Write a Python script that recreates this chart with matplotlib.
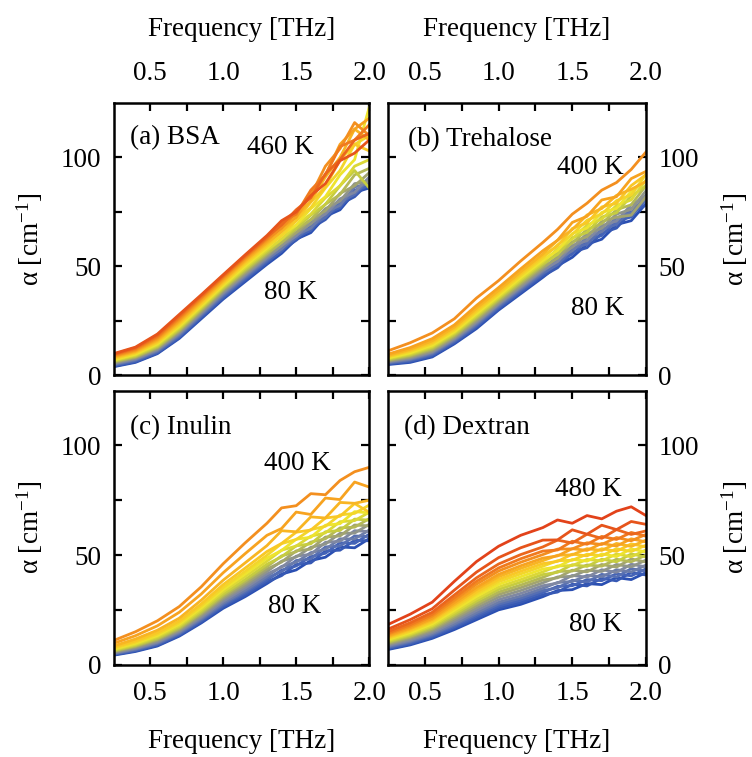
import matplotlib
matplotlib.use('Agg')
import matplotlib.pyplot as plt
from matplotlib.colors import LinearSegmentedColormap

# ------------------------------------------------------------
# font setup (Times-like serif)
# ------------------------------------------------------------
plt.rcParams['font.family'] = ['Liberation Serif', 'DejaVu Serif']
plt.rcParams['mathtext.default'] = 'regular'
FS = 19.5

# ------------------------------------------------------------
# data (frequency in THz, alpha in cm^-1)
# ------------------------------------------------------------
freq = [0.25, 0.4, 0.55, 0.7, 0.85, 1.0, 1.15, 1.3, 1.4, 1.5, 1.6, 1.7, 1.8, 1.9, 2.0]

bsa_temps = list(range(80, 461, 20))
bsa_alpha = [
    [4.0, 6.0, 10.0, 17.0, 26.0, 35.0, 43.0, 51.0, 56.0, 62.5, 65.5, 73.0, 76.0, 84.0, 86.0],
    [4.2, 6.3, 10.3, 17.4, 26.5, 35.5, 43.6, 51.6, 57.5, 62.0, 67.5, 71.5, 78.5, 82.0, 88.5],
    [4.5, 6.6, 10.6, 17.8, 27.0, 36.0, 44.2, 52.2, 57.0, 63.5, 66.5, 74.0, 77.0, 85.0, 87.0],
    [4.8, 7.0, 11.0, 18.3, 27.5, 36.6, 44.8, 52.8, 58.5, 63.0, 68.5, 72.5, 79.5, 83.0, 90.0],
    [5.1, 7.3, 11.4, 18.8, 28.0, 37.2, 45.4, 53.4, 58.0, 64.5, 67.5, 75.0, 78.0, 86.5, 88.0],
    [5.4, 7.6, 11.8, 19.3, 28.5, 37.8, 46.0, 54.0, 59.5, 64.0, 70.0, 74.0, 81.0, 84.0, 91.0],
    [5.7, 8.0, 12.2, 19.8, 29.0, 38.4, 46.6, 54.6, 59.5, 65.5, 69.5, 76.5, 80.0, 88.0, 89.0],
    [6.0, 8.3, 12.6, 20.3, 29.6, 39.0, 47.3, 55.3, 61.0, 65.5, 71.5, 75.5, 83.5, 87.0, 93.0],
    [6.3, 8.6, 13.0, 20.8, 30.2, 39.6, 48.0, 56.0, 61.0, 67.0, 71.5, 78.5, 83.0, 92.0, 95.0],
    [6.6, 9.0, 13.5, 21.4, 30.8, 40.2, 48.7, 56.8, 62.5, 67.5, 73.5, 78.5, 87.0, 94.0, 86.0],
    [6.9, 9.4, 14.0, 22.0, 31.4, 40.8, 49.4, 57.6, 62.5, 69.0, 74.0, 81.5, 87.0, 96.0, 99.0],
    [7.2, 9.8, 14.5, 22.6, 32.0, 41.4, 50.2, 58.4, 64.5, 69.0, 76.5, 82.0, 92.0, 99.0, 123.0],
    [7.5, 10.2, 15.0, 23.2, 32.6, 42.0, 51.0, 59.2, 64.0, 71.0, 77.0, 86.0, 94.0, 106.0, 110.0],
    [7.9, 10.6, 15.5, 23.9, 33.3, 42.7, 51.8, 60.0, 66.0, 71.0, 79.5, 86.5, 99.0, 106.0, 103.0],
    [8.3, 11.0, 16.1, 24.6, 34.0, 43.4, 52.5, 60.8, 66.0, 73.0, 80.0, 91.0, 100.0, 113.0, 108.0],
    [8.7, 11.4, 16.7, 25.3, 34.7, 44.1, 53.2, 61.6, 68.0, 72.5, 83.0, 92.0, 106.0, 113.0, 118.0],
    [9.0, 11.8, 17.3, 26.0, 35.4, 44.8, 53.9, 62.4, 67.5, 75.0, 82.5, 96.0, 104.0, 116.0, 110.0],
    [9.4, 12.3, 17.9, 26.7, 36.0, 45.3, 54.4, 63.0, 70.0, 74.0, 85.0, 92.0, 105.0, 108.0, 115.0],
    [9.7, 12.7, 18.5, 27.4, 36.6, 45.8, 54.9, 63.6, 69.0, 76.0, 81.5, 92.5, 99.0, 108.0, 111.0],
    [10.0, 13.0, 19.0, 28.0, 37.0, 46.2, 55.3, 64.2, 71.0, 75.0, 82.5, 88.0, 98.5, 102.0, 108.0],
]

tre_temps = list(range(80, 401, 20))
tre_alpha = [
    [5.0, 6.0, 8.5, 14.5, 21.5, 30.0, 37.5, 45.0, 50.3, 54.2, 60.2, 62.5, 69.2, 71.0, 78.8],
    [5.3, 6.4, 8.9, 15.0, 22.1, 30.5, 38.1, 45.6, 49.4, 56.6, 58.6, 65.3, 67.6, 74.9, 78.2],
    [5.5, 6.7, 9.4, 15.4, 22.6, 31.1, 38.7, 46.3, 51.7, 55.7, 61.8, 64.2, 70.8, 72.7, 80.8],
    [5.8, 7.1, 9.8, 15.9, 23.2, 31.6, 39.3, 46.9, 50.8, 58.1, 60.2, 67.0, 69.2, 76.6, 80.1],
    [6.0, 7.4, 10.3, 16.3, 23.7, 32.2, 39.9, 47.6, 53.1, 57.2, 63.4, 65.9, 72.4, 74.4, 82.7],
    [6.3, 7.8, 10.7, 16.8, 24.3, 32.7, 40.5, 48.2, 52.2, 59.6, 61.8, 68.7, 70.8, 78.3, 82.1],
    [6.5, 8.2, 11.1, 17.3, 24.9, 33.2, 41.1, 48.8, 54.5, 58.8, 65.0, 67.5, 74.0, 76.2, 84.7],
    [6.8, 8.6, 11.7, 17.8, 25.6, 33.9, 41.9, 49.6, 53.8, 61.3, 63.6, 70.6, 72.6, 73.5, 82.0],
    [7.1, 9.1, 12.2, 18.4, 26.3, 34.6, 42.6, 50.4, 56.3, 60.7, 67.0, 69.6, 76.0, 78.3, 87.1],
    [7.5, 9.5, 12.8, 19.0, 27.0, 35.3, 43.4, 51.2, 55.5, 63.2, 65.6, 72.7, 74.6, 82.4, 86.8],
    [7.8, 10.0, 13.3, 19.6, 27.7, 35.9, 44.1, 52.0, 58.0, 62.6, 69.0, 71.7, 78.0, 80.5, 89.6],
    [8.1, 10.4, 13.9, 20.1, 28.4, 36.6, 44.9, 52.8, 57.3, 65.1, 67.6, 74.8, 76.6, 84.5, 89.2],
    [8.5, 11.0, 14.6, 20.8, 29.2, 37.4, 45.8, 53.8, 59.9, 64.7, 71.2, 74.1, 80.2, 82.8, 92.3],
    [8.8, 11.5, 15.2, 21.5, 30.0, 38.2, 46.7, 54.8, 59.4, 67.4, 70.0, 77.3, 79.0, 87.1, 92.1],
    [9.2, 12.0, 15.9, 22.2, 30.9, 39.0, 47.6, 55.7, 62.0, 66.9, 73.6, 76.6, 82.6, 85.4, 89.0],
    [9.8, 12.8, 16.9, 23.2, 32.1, 40.3, 48.9, 57.2, 62.0, 70.2, 73.0, 80.5, 82.0, 90.3, 93.6],
    [11.3, 15.0, 19.5, 26.0, 35.5, 43.5, 52.5, 61.0, 67.0, 74.0, 79.0, 85.0, 88.5, 94.5, 102.5],
]

inu_temps = list(range(80, 401, 20))
inu_alpha = [
    [4.3, 6.0, 8.5, 13.0, 19.0, 25.7, 31.0, 37.0, 41.3, 43.2, 47.5, 49.0, 53.7, 53.3, 57.5],
    [4.5, 6.3, 8.8, 13.4, 19.5, 26.3, 31.7, 37.8, 40.6, 45.7, 46.4, 51.9, 52.2, 56.7, 56.5],
    [4.7, 6.5, 9.2, 13.8, 20.0, 26.9, 32.5, 38.6, 43.1, 45.0, 49.3, 50.8, 55.6, 55.3, 59.5],
    [4.9, 6.8, 9.5, 14.2, 20.5, 27.5, 33.2, 39.5, 42.4, 47.5, 48.2, 53.7, 54.1, 58.7, 58.4],
    [5.1, 7.1, 9.9, 14.6, 21.0, 28.1, 33.9, 40.3, 44.8, 46.7, 51.1, 52.6, 57.4, 57.3, 61.4],
    [5.4, 7.4, 10.3, 15.1, 21.6, 28.9, 34.9, 41.4, 44.4, 49.5, 50.3, 55.8, 56.3, 61.1, 60.7],
    [5.6, 7.8, 10.8, 15.6, 22.3, 29.8, 35.9, 42.5, 47.2, 49.1, 53.5, 55.0, 59.9, 60.0, 64.0],
    [5.9, 8.2, 11.3, 16.1, 23.0, 30.6, 36.9, 43.6, 46.8, 51.9, 52.7, 58.2, 58.7, 63.7, 63.3],
    [6.2, 8.5, 11.7, 16.6, 23.6, 31.4, 37.9, 44.7, 49.6, 51.5, 55.9, 57.4, 62.4, 62.7, 66.6],
    [6.4, 8.9, 12.2, 17.2, 24.3, 32.2, 38.8, 45.8, 49.2, 54.2, 55.1, 60.6, 61.2, 66.4, 65.9],
    [6.8, 9.3, 12.8, 17.8, 25.1, 33.2, 40.1, 47.2, 52.2, 54.1, 58.6, 60.1, 65.2, 65.7, 69.5],
    [7.1, 9.8, 13.3, 18.5, 25.9, 34.2, 41.3, 48.6, 52.1, 57.2, 58.1, 63.6, 64.3, 69.8, 69.2],
    [7.5, 10.2, 13.9, 19.1, 26.8, 35.2, 42.5, 49.9, 55.2, 57.1, 61.6, 63.1, 68.3, 69.0, 72.8],
    [7.9, 10.8, 14.6, 19.9, 27.7, 36.5, 44.0, 51.6, 55.3, 60.4, 61.4, 66.9, 67.7, 73.5, 69.5],
    [8.5, 11.7, 15.7, 21.2, 29.4, 38.5, 46.4, 54.3, 61.1, 60.6, 67.4, 66.9, 74.0, 73.6, 75.0],
    [9.7, 13.2, 17.7, 23.9, 32.2, 41.9, 50.6, 59.0, 62.1, 69.6, 68.5, 76.0, 75.3, 83.3, 81.0],
    [11.0, 15.0, 20.0, 26.5, 35.5, 46.0, 55.5, 64.5, 71.5, 72.5, 78.0, 77.5, 84.0, 88.0, 90.0],
]

dex_temps = list(range(80, 481, 20))
dex_alpha = [
    [6.9, 9.0, 12.0, 16.0, 20.5, 25.0, 27.5, 31.0, 33.8, 34.2, 37.0, 36.5, 39.7, 38.8, 42.0],
    [7.2, 9.4, 12.5, 16.7, 21.3, 25.9, 28.4, 31.9, 33.1, 36.7, 35.9, 39.4, 38.2, 42.1, 40.9],
    [7.6, 9.8, 13.0, 17.3, 22.1, 26.7, 29.4, 32.9, 35.7, 36.0, 38.8, 38.3, 41.5, 40.5, 43.7],
    [7.9, 10.3, 13.5, 18.0, 22.9, 27.6, 30.3, 33.8, 35.0, 38.5, 37.7, 41.2, 40.0, 43.8, 42.6],
    [8.3, 10.7, 14.0, 18.6, 23.7, 28.5, 31.3, 34.8, 37.5, 37.9, 40.7, 40.1, 43.3, 42.3, 45.4],
    [8.7, 11.2, 14.6, 19.5, 24.7, 29.6, 32.5, 36.0, 37.2, 40.7, 39.9, 43.3, 42.1, 45.8, 44.6],
    [9.2, 11.8, 15.3, 20.4, 25.8, 30.8, 33.8, 37.3, 40.0, 40.3, 43.1, 42.5, 45.7, 44.6, 47.7],
    [9.6, 12.4, 16.0, 21.3, 26.9, 32.0, 35.1, 38.6, 39.6, 43.1, 42.3, 45.7, 44.5, 48.2, 46.8],
    [10.1, 12.9, 16.6, 22.2, 27.9, 33.1, 36.3, 39.8, 42.5, 42.7, 45.5, 44.9, 48.1, 46.9, 50.0],
    [10.5, 13.5, 17.3, 23.0, 29.0, 34.3, 37.6, 41.1, 42.1, 45.6, 44.8, 48.1, 46.9, 50.5, 49.1],
    [11.0, 14.0, 17.9, 23.9, 30.0, 35.4, 38.8, 42.3, 45.0, 45.2, 48.0, 47.3, 50.5, 49.2, 52.3],
    [11.5, 14.6, 18.6, 24.8, 31.1, 36.6, 40.1, 43.6, 44.6, 48.0, 47.2, 50.5, 49.3, 52.8, 51.4],
    [11.9, 15.2, 19.3, 25.7, 32.2, 37.8, 41.4, 44.9, 47.4, 47.6, 50.4, 49.7, 52.9, 51.6, 54.5],
    [12.4, 15.7, 19.9, 26.6, 33.2, 38.9, 42.6, 46.1, 47.1, 50.4, 49.6, 52.9, 51.7, 55.1, 53.7],
    [12.8, 16.3, 20.6, 27.4, 34.3, 40.1, 43.9, 47.4, 49.9, 50.1, 52.9, 52.1, 55.3, 53.9, 56.8],
    [13.3, 16.8, 21.2, 28.3, 35.3, 41.2, 45.1, 48.6, 49.6, 52.9, 52.1, 55.3, 54.1, 57.4, 56.0],
    [13.9, 17.5, 22.1, 29.4, 36.7, 42.7, 46.7, 50.2, 52.7, 52.8, 55.6, 54.8, 58.0, 56.5, 59.4],
    [14.4, 18.2, 22.9, 30.5, 38.0, 44.1, 48.3, 51.8, 52.3, 56.3, 54.9, 58.5, 57.1, 60.3, 58.6],
    [15.1, 19.1, 23.9, 31.8, 39.6, 45.9, 50.2, 53.7, 56.8, 55.5, 59.5, 57.6, 61.6, 59.4, 61.0],
    [16.2, 20.5, 25.5, 34.0, 42.2, 48.8, 53.3, 56.8, 56.9, 61.5, 59.5, 63.6, 61.6, 65.3, 64.0],
    [18.3, 23.0, 28.5, 38.0, 47.0, 54.0, 59.0, 62.5, 66.0, 64.5, 68.0, 66.5, 70.0, 72.0, 68.0],
]

panel_titles = ['(a) BSA', '(b) Trehalose', '(c) Inulin', '(d) Dextran']
high_labels = ['460 K', '400 K', '400 K', '480 K']
low_label = '80 K'

# ------------------------------------------------------------
# temperature colour scale: blue -> grey -> yellow -> orange -> red
# ------------------------------------------------------------
T_MIN, T_MAX = 80, 480
cmap = LinearSegmentedColormap.from_list('temp', [
    (0.00, '#2a4fb2'),
    (0.12, '#4a68b8'),
    (0.25, '#8088a2'),
    (0.35, '#a2a470'),
    (0.45, '#c6cc40'),
    (0.55, '#eee42e'),
    (0.65, '#f9c826'),
    (0.75, '#f7a420'),
    (0.85, '#f07a1e'),
    (1.00, '#e2421a'),
])

fig = plt.figure(figsize=(7.52, 7.57), dpi=100)

positions = [
    [0.151, 0.504, 0.340, 0.360],
    [0.516, 0.504, 0.343, 0.360],
    [0.151, 0.122, 0.340, 0.362],
    [0.516, 0.122, 0.343, 0.362],
]
datasets = [
    (bsa_temps, bsa_alpha),
    (tre_temps, tre_alpha),
    (inu_temps, inu_alpha),
    (dex_temps, dex_alpha),
]
title_pos = [(0.36, 109), (0.385, 108), (0.36, 108), (0.36, 108)]
high_pos = [(1.39, 104.6), (1.62, 95.4), (1.505, 91.7), (1.61, 80)]
low_pos = [(1.46, 38), (1.67, 30.7), (1.49, 26.6), (1.66, 18.3)]

for i, (pos, (temps, rows)) in enumerate(zip(positions, datasets)):
    ax = fig.add_axes(pos)
    for T, row in zip(temps, rows):
        c = cmap((T - T_MIN) / (T_MAX - T_MIN))
        ax.plot(freq, row, color=c, lw=2.0, solid_joinstyle='round')

    ax.set_xlim(0.25, 2.0)
    ax.set_ylim(0, 125)
    ax.set_xticks([0.5, 1.0, 1.5, 2.0])
    ax.set_xticks([0.75, 1.25, 1.75], minor=True)
    ax.set_yticks([0, 50, 100])
    ax.set_yticks([25, 75], minor=True)
    ax.tick_params(which='both', direction='in', top=True, bottom=True,
                   left=True, right=True, length=6, width=1.6, labelsize=FS)
    for sp in ax.spines.values():
        sp.set_linewidth(1.8)

    top = i < 2
    left = i % 2 == 0
    ax.tick_params(axis='x', pad=12, labeltop=top, labelbottom=not top)
    ax.tick_params(axis='y', pad=9, labelleft=left, labelright=not left)
    if top:
        ax.xaxis.set_label_position('top')
        ax.set_xlabel('Frequency [THz]', fontsize=FS, labelpad=18)
    else:
        ax.set_xlabel('Frequency [THz]', fontsize=FS, labelpad=16)
    if left:
        ax.set_ylabel('α [cm$^{-1}$]', fontsize=FS, labelpad=11)
    else:
        ax.yaxis.set_label_position('right')
        ax.set_ylabel('α [cm$^{-1}$]', fontsize=FS, labelpad=15)

    ax.text(*title_pos[i], panel_titles[i], fontsize=FS, ha='left', va='center')
    ax.text(*high_pos[i], high_labels[i], fontsize=FS, ha='center', va='center')
    ax.text(*low_pos[i], low_label, fontsize=FS, ha='center', va='center')

plt.savefig('out.png', dpi=100)
